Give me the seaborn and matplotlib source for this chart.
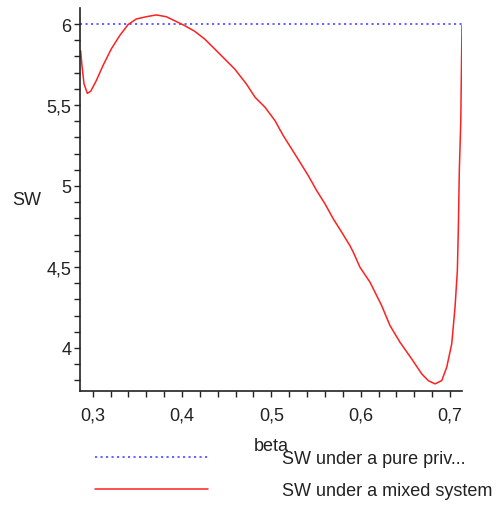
import numpy as np
import pandas as pd
import seaborn as sns
import matplotlib.pyplot as plt
from matplotlib.ticker import FuncFormatter, MultipleLocator

# values
beta = [0.2865, 0.2880, 0.2903, 0.2940, 0.2978, 0.3040, 0.3115, 0.3208, 0.3302,
        0.3395, 0.3488, 0.3600, 0.3712, 0.3824, 0.3918, 0.4030, 0.4142, 0.4254,
        0.4366, 0.4478, 0.4590, 0.4720, 0.4817, 0.4929, 0.5041, 0.5134, 0.5228,
        0.5321, 0.5414, 0.5508, 0.5601, 0.5694, 0.5788, 0.5880, 0.5917, 0.5992,
        0.6104, 0.6235, 0.6328, 0.6440, 0.6571, 0.6683, 0.6757, 0.6832, 0.6907,
        0.6963, 0.7019, 0.7056, 0.7082, 0.7093, 0.7104, 0.7120, 0.7134]
sw_mixed = [5.835, 5.743, 5.630, 5.572, 5.585, 5.650, 5.743, 5.846, 5.928,
            5.996, 6.031, 6.045, 6.056, 6.045, 6.020, 5.990, 5.955, 5.907,
            5.846, 5.784, 5.722, 5.630, 5.548, 5.486, 5.403, 5.310, 5.228,
            5.146, 5.063, 4.971, 4.889, 4.796, 4.714, 4.631, 4.591, 4.498,
            4.406, 4.261, 4.138, 4.035, 3.932, 3.840, 3.798, 3.778, 3.798,
            3.881, 4.025, 4.251, 4.477, 4.735, 5.094, 5.393, 5.990]
beta_pure = [0.2858, 0.7134]
sw_pure = [6.0, 6.0]

labels = ["SW under a pure priv...", "SW under a mixed system"]

sns.set_style("ticks")
plt.rcParams['font.family'] = ['Liberation Sans', 'DejaVu Sans']
fs = 13

fig = plt.figure(figsize=(4.97, 5.10), dpi=100)
ax = fig.add_axes([80/497, 1 - 391.7/510, (462 - 80)/497, (391.7 - 9.3)/510])

pure = pd.DataFrame({'beta': beta_pure, 'SW': sw_pure})
mixed = pd.DataFrame({'beta': beta, 'SW': sw_mixed})

sns.lineplot(data=pure, x='beta', y='SW', ax=ax, color='#3a3aff', lw=1.1,
             sort=False, label=labels[0], linestyle=(0, (1.4, 2.2)))
sns.lineplot(data=mixed, x='beta', y='SW', ax=ax, color='#ff2020', lw=1.1,
             sort=False, label=labels[1])

ax.set_xlim(0.2858, 0.7134)
ax.set_ylim(3.736, 6.097)
sns.despine(ax=ax)
for s in ['left', 'bottom']:
    ax.spines[s].set_color('#222222')
    ax.spines[s].set_linewidth(1.2)

ax.xaxis.set_major_locator(MultipleLocator(0.1))
ax.xaxis.set_minor_locator(MultipleLocator(0.02))
ax.yaxis.set_major_locator(MultipleLocator(0.5))
ax.yaxis.set_minor_locator(MultipleLocator(0.1))
comma = FuncFormatter(lambda v, p: f"{v:g}".replace('.', ','))
ax.xaxis.set_major_formatter(comma)
ax.yaxis.set_major_formatter(comma)
ax.tick_params(which='both', direction='out', length=4.3, width=1.0,
               color='#222222', labelsize=fs, labelcolor='#222222')
ax.tick_params(axis='x', pad=7)
ax.tick_params(axis='y', pad=2)

ax.set_xlabel('beta', fontsize=fs, color='#222222', labelpad=10)
ax.set_ylabel('SW', fontsize=fs, color='#222222', rotation=0,
              labelpad=14, va='center')

handles, lbls = ax.get_legend_handles_labels()
ax.get_legend().remove()
fig.legend(handles, lbls, loc='upper left', bbox_to_anchor=(95/497, 1 - 451/510),
           frameon=False, fontsize=fs, handlelength=6.25, handletextpad=4.1,
           labelspacing=0.85, borderpad=0, borderaxespad=0,
           labelcolor='#222222')

fig.savefig('out.png', dpi=100)
